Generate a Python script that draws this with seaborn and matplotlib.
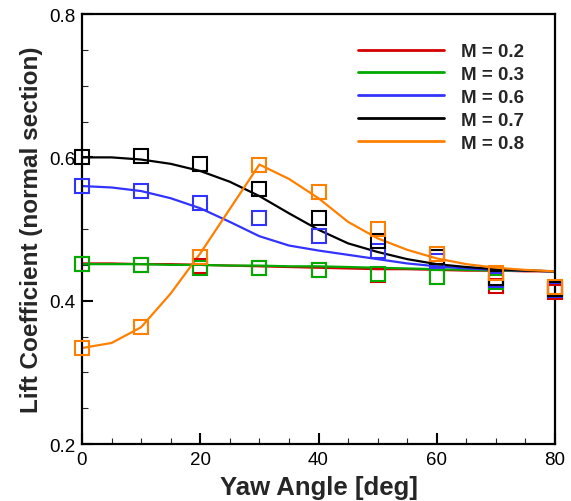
import numpy as np
import pandas as pd
import matplotlib
matplotlib.use("Agg")
import matplotlib.pyplot as plt
import seaborn as sns
from matplotlib.ticker import MultipleLocator

sns.set_theme(style="white")
plt.rcParams['font.family'] = ['Liberation Sans', 'DejaVu Sans']

# Mach numbers / labels
mach_labels = ["M = 0.2", "M = 0.3", "M = 0.6", "M = 0.7", "M = 0.8"]
colors = ["#d40000", "#00aa00", "#3333ff", "#000000", "#ff8000"]

# Smooth fitted curves (yaw angle every 5 deg)
line_yaw = [0, 5, 10, 15, 20, 25, 30, 35, 40, 45, 50, 55, 60, 65, 70, 75, 80]
line_m02 = [0.452, 0.452, 0.451, 0.451, 0.450, 0.449, 0.448, 0.447, 0.446, 0.445,
            0.444, 0.444, 0.443, 0.442, 0.442, 0.441, 0.441]
line_m03 = [0.451, 0.451, 0.451, 0.450, 0.450, 0.449, 0.449, 0.448, 0.448, 0.447,
            0.446, 0.445, 0.444, 0.443, 0.442, 0.442, 0.441]
line_m06 = [0.560, 0.558, 0.553, 0.543, 0.529, 0.510, 0.490, 0.477, 0.470, 0.464,
            0.458, 0.452, 0.448, 0.445, 0.443, 0.442, 0.441]
line_m07 = [0.600, 0.600, 0.597, 0.591, 0.581, 0.566, 0.546, 0.522, 0.499, 0.480,
            0.468, 0.458, 0.451, 0.447, 0.444, 0.442, 0.441]
line_m08 = [0.334, 0.341, 0.363, 0.410, 0.466, 0.528, 0.590, 0.570, 0.543, 0.510,
            0.487, 0.471, 0.459, 0.451, 0.446, 0.443, 0.441]

# Measured points (yaw angle every 10 deg)
pt_yaw = [0, 10, 20, 30, 40, 50, 60, 70, 80]
pt_m02 = [0.451, 0.450, 0.448, 0.446, 0.443, 0.436, 0.433, 0.420, 0.412]
pt_m03 = [0.451, 0.450, 0.446, 0.445, 0.443, 0.437, 0.433, 0.426, 0.416]
pt_m06 = [0.560, 0.553, 0.536, 0.515, 0.490, 0.469, 0.455, 0.429, 0.415]
pt_m07 = [0.600, 0.602, 0.591, 0.556, 0.515, 0.483, 0.461, 0.432, 0.416]
pt_m08 = [0.334, 0.363, 0.461, 0.589, 0.552, 0.500, 0.465, 0.439, 0.419]

line_series = [line_m02, line_m03, line_m06, line_m07, line_m08]
pt_series = [pt_m02, pt_m03, pt_m06, pt_m07, pt_m08]

line_df = pd.concat([pd.DataFrame({"yaw": line_yaw, "cl": v, "M": lab})
                     for v, lab in zip(line_series, mach_labels)])
pt_df = pd.concat([pd.DataFrame({"yaw": pt_yaw, "cl": v, "M": lab})
                   for v, lab in zip(pt_series, mach_labels)])
palette = dict(zip(mach_labels, colors))

fig = plt.figure(figsize=(5.71, 5.02), dpi=100)
ax = fig.add_axes([0.1436, 0.1135, 0.8284, 0.8565])

sns.lineplot(data=line_df, x="yaw", y="cl", hue="M", palette=palette,
             linewidth=1.6, ax=ax, sort=True, estimator=None)
for lab in mach_labels:
    sub = pt_df[pt_df["M"] == lab]
    ax.plot(sub["yaw"], sub["cl"], linestyle="none", marker="s", markersize=9.5,
            markerfacecolor="none", markeredgecolor=palette[lab],
            markeredgewidth=1.5, clip_on=False, zorder=3)

ax.set_xlim(0, 80)
ax.set_ylim(0.2, 0.8)
ax.xaxis.set_major_locator(MultipleLocator(20))
ax.xaxis.set_minor_locator(MultipleLocator(5))
ax.yaxis.set_major_locator(MultipleLocator(0.2))
ax.yaxis.set_minor_locator(MultipleLocator(0.05))
ax.xaxis.set_major_formatter(matplotlib.ticker.FormatStrFormatter('%d'))
ax.yaxis.set_major_formatter(matplotlib.ticker.FormatStrFormatter('%.1f'))
ax.tick_params(which="major", direction="in", length=8, width=1.5,
               labelsize=13.5, colors="black", pad=5, top=False, right=False,
               bottom=True, left=True)
ax.tick_params(which="minor", direction="in", length=4, width=0.8,
               top=False, right=False, bottom=True, left=True)
for s in ax.spines.values():
    s.set_color("black")
    s.set_linewidth(1.6)

ax.set_xlabel("Yaw Angle [deg]", fontsize=18.5, fontweight="bold", labelpad=5)
ax.set_ylabel("Lift Coefficient (normal section)", fontsize=17.5,
              fontweight="bold", labelpad=4)

leg = ax.legend(loc="upper right", bbox_to_anchor=(0.97, 0.972), frameon=False,
                prop={"weight": "bold", "size": 13.5}, handlelength=4.6,
                labelspacing=0.31, handletextpad=0.9)
for line in leg.get_lines():
    line.set_linewidth(2.0)

fig.savefig("out.png", dpi=100)
